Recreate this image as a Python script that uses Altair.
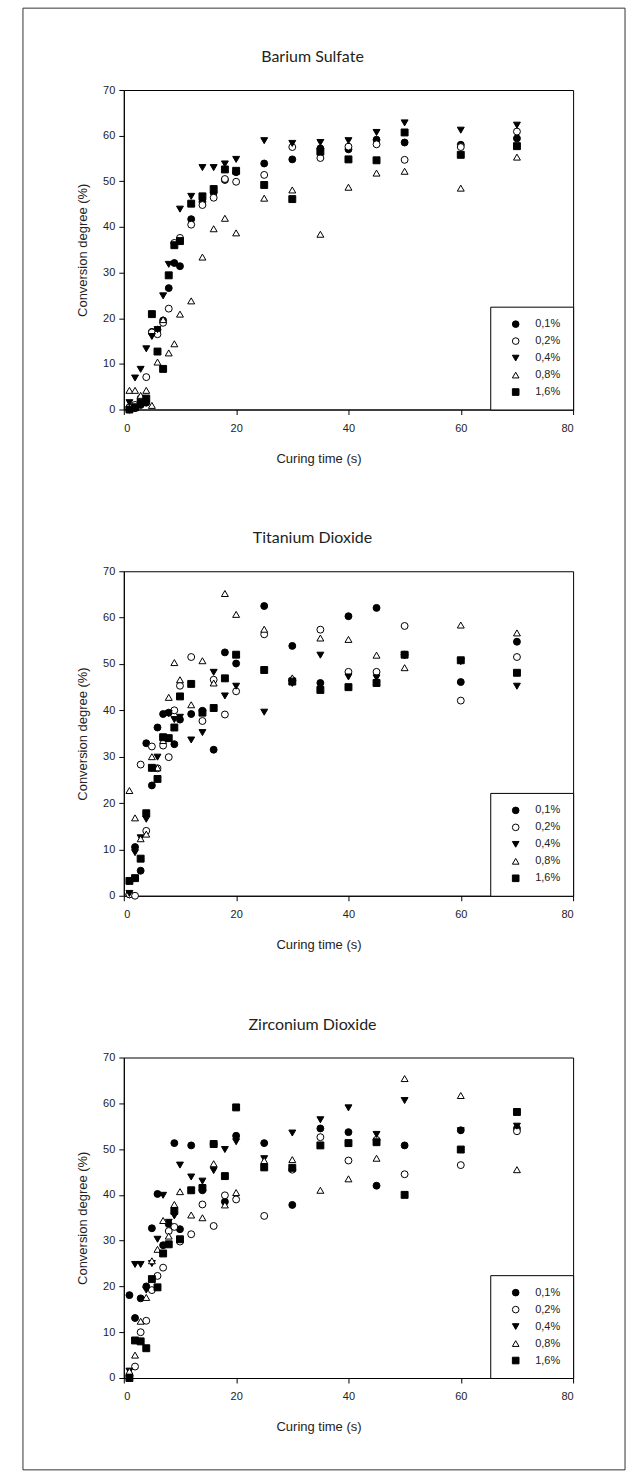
import altair as alt
import pandas as pd

# ---------------- data ----------------
times = [1, 2, 3, 4, 5, 6, 7, 8, 9, 10, 12, 14, 16, 18, 20, 25, 30, 35, 40, 45, 50, 60, 70]
series_labels = ["0,1%", "0,2%", "0,4%", "0,8%", "1,6%"]

# Barium Sulfate
bs_01 = [0.0, 0.3, 1.0, 1.5, 17.0, 17.5, 19.5, 26.6, 32.1, 31.4, 41.7, 45.5, 47.5, 50.3, 52.0, 53.9, 54.8, 57.2, 57.0, 59.1, 58.5, 58.0, 59.4]
bs_02 = [0.5, 1.0, 2.5, 7.1, 16.9, 16.5, 19.0, 22.1, 36.5, 37.6, 40.5, 44.8, 46.4, 50.5, 49.9, 51.4, 57.5, 55.1, 57.6, 58.1, 54.7, 57.5, 60.9]
bs_04 = [1.5, 6.9, 8.8, 13.3, 16.0, 17.5, 24.9, 31.8, 35.9, 43.9, 46.7, 53.0, 53.0, 53.8, 54.8, 58.9, 58.3, 58.5, 58.9, 60.7, 62.8, 61.2, 62.3]
bs_08 = [4.2, 4.2, 3.1, 4.2, 0.9, 10.4, 19.7, 12.4, 14.4, 20.9, 23.8, 33.4, 39.6, 41.9, 38.7, 46.3, 48.1, 38.4, 48.7, 51.8, 52.2, 48.5, 55.3]
bs_16 = [0.0, 0.5, 1.5, 2.4, 20.9, 12.7, 8.9, 29.4, 36.0, 36.9, 45.1, 46.7, 48.3, 52.6, 52.3, 49.2, 46.1, 56.5, 54.8, 54.6, 60.7, 55.8, 57.7]

# Titanium Dioxide
td_01 = [0.3, 10.5, 5.4, 32.9, 23.8, 36.3, 39.2, 39.5, 32.7, 38.0, 39.2, 39.9, 31.5, 52.5, 50.1, 62.5, 53.9, 45.9, 60.3, 62.1, 52.0, 46.1, 54.8]
td_02 = [0.3, 0.0, 28.3, 14.0, 32.2, 27.5, 32.4, 29.9, 40.0, 45.3, 51.5, 37.7, 46.6, 39.1, 44.1, 56.4, 46.5, 57.4, 48.3, 48.3, 58.2, 42.1, 51.5]
td_04 = [0.5, 9.3, 12.5, 16.5, 27.5, 29.9, 33.8, 39.3, 38.0, 38.5, 33.6, 35.2, 48.2, 43.1, 45.2, 39.6, 45.8, 51.9, 47.2, 47.0, 51.8, 50.5, 45.2]
td_08 = [22.7, 16.8, 12.3, 13.3, 30.0, 27.6, 33.5, 42.8, 50.3, 46.6, 41.2, 50.7, 45.9, 65.2, 60.7, 57.5, 47.0, 55.6, 55.3, 51.9, 49.2, 58.4, 56.7]
td_16 = [3.2, 3.8, 8.0, 17.8, 27.6, 25.2, 34.2, 34.0, 36.3, 43.0, 45.7, 39.5, 40.5, 46.9, 52.0, 48.7, 46.2, 44.4, 45.0, 45.9, 52.0, 50.8, 48.1]

# Zirconium Dioxide
zd_01 = [18.1, 13.1, 17.4, 20.0, 32.7, 40.2, 29.0, 33.6, 51.3, 32.5, 50.8, 41.0, 51.1, 38.5, 52.9, 51.3, 37.8, 54.5, 53.7, 42.0, 50.8, 54.1, 54.5]
zd_02 = [0.5, 2.5, 10.0, 12.5, 19.2, 22.3, 24.1, 32.1, 33.0, 29.8, 31.4, 37.9, 33.2, 39.9, 39.0, 35.4, 45.5, 52.6, 47.5, 52.0, 44.5, 46.5, 53.9]
zd_04 = [1.5, 24.8, 24.8, 19.2, 25.0, 30.3, 39.9, 34.0, 35.4, 46.5, 43.9, 43.0, 45.3, 49.9, 51.6, 47.9, 53.5, 56.4, 59.0, 53.2, 60.6, 54.0, 55.0]
zd_08 = [1.5, 5.0, 12.4, 17.6, 25.6, 28.1, 34.4, 31.0, 37.9, 40.7, 35.6, 35.0, 46.8, 37.8, 40.5, 47.5, 47.7, 41.0, 43.5, 48.0, 65.4, 61.7, 45.5]
zd_16 = [0.0, 8.2, 8.0, 6.5, 21.6, 19.8, 27.2, 29.2, 36.5, 30.3, 41.0, 41.5, 51.1, 44.1, 59.1, 46.0, 45.9, 50.8, 51.3, 51.5, 40.0, 49.9, 58.1]

panel_titles = ["Barium Sulfate", "Titanium Dioxide", "Zirconium Dioxide"]
x_ticks = [0, 20, 40, 60, 80]
y_ticks = [0, 10, 20, 30, 40, 50, 60, 70]

shapes = ["circle", "circle", "triangle-down", "triangle-up", "square"]
fills = ["black", "white", "black", "white", "black"]
strokes = ["black", "black", "black", "black", "black"]


def make_df(series_list):
    rows = []
    for lab, vals in zip(series_labels, series_list):
        for t, v in zip(times, vals):
            rows.append({"time": t, "conv": v, "series": lab})
    return pd.DataFrame(rows)


def panel(title, series_list, height, border=False):
    df = make_df(series_list)
    leg = alt.Legend(
        orient="bottom-right", offset=0, title=None,
        strokeColor="black", fillColor="white", padding=12,
        rowPadding=5, symbolOffset=8, labelOffset=14,
        labelFont="Liberation Sans", labelFontSize=11, labelColor="#222",
        symbolSize=44, symbolStrokeWidth=1,
        cornerRadius=0,
    )
    pts = alt.Chart(df).mark_point(
        size=48, strokeWidth=1, opacity=1, fillOpacity=1
    ).encode(
        x=alt.X("time:Q", scale=alt.Scale(domain=[0, 80], nice=False),
                axis=alt.Axis(values=x_ticks, title="Curing time (s)",
                              titleX=195, titleY=43, titleBaseline="top",
                              titleAlign="center", labelPadding=8)),
        y=alt.Y("conv:Q", scale=alt.Scale(domain=[0, 70], nice=False),
                axis=alt.Axis(values=y_ticks, title="Conversion degree (%)",
                              titlePadding=13, labelPadding=4)),
        shape=alt.Shape("series:N", scale=alt.Scale(domain=series_labels, range=shapes), legend=leg),
        fill=alt.Fill("series:N", scale=alt.Scale(domain=series_labels, range=fills), legend=leg),
        stroke=alt.Stroke("series:N", scale=alt.Scale(domain=series_labels, range=strokes), legend=leg),
    )
    ttl = alt.Chart(pd.DataFrame({"t": [title]})).mark_text(
        font="Lato", fontSize=16, color="#231f20", align="center", baseline="middle"
    ).encode(text="t:N", x=alt.value(189), y=alt.value(-33))
    layers = [ttl, pts]
    if border:
        frame = alt.Chart(pd.DataFrame({"k": [0]})).mark_rect(
            fillOpacity=0, stroke="#333", strokeWidth=1
        ).encode(x=alt.value(-101), x2=alt.value(502), y=alt.value(-82), y2=alt.value(1382))
        layers = [frame] + layers
    return alt.layer(*layers).properties(width=450, height=height)


p1 = panel(panel_titles[0], [bs_01, bs_02, bs_04, bs_08, bs_16], 320, border=True)
p2 = panel(panel_titles[1], [td_01, td_02, td_04, td_08, td_16], 325)
p3 = panel(panel_titles[2], [zd_01, zd_02, zd_04, zd_08, zd_16], 321)

chart = alt.vconcat(p1, p2, p3, spacing=162, bounds="flush").resolve_scale(
    shape="independent", fill="independent", stroke="independent"
).properties(
    padding={"left": 22, "top": 6, "right": 15, "bottom": 8}
).configure_view(
    stroke="black", strokeWidth=1
).configure_axis(
    domainColor="black", tickColor="black", tickSize=5, grid=False,
    labelFont="Liberation Sans", labelFontSize=11, labelColor="#222",
    titleFont="Liberation Sans", titleFontSize=13, titleFontWeight="normal", titleColor="#222",
)

chart.save("out.html", embed_options={"renderer": "svg", "actions": False})
